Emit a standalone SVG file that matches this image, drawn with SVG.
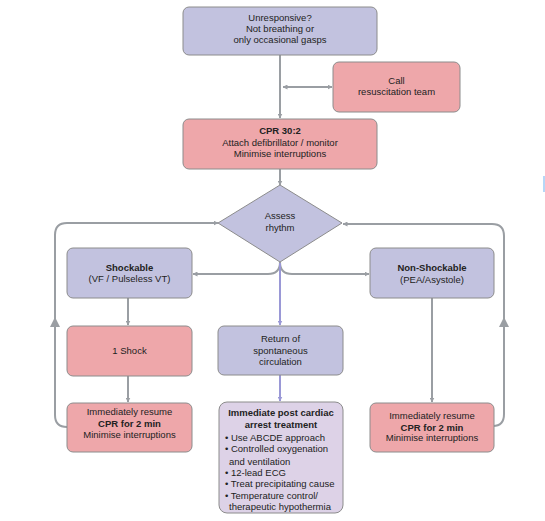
<svg xmlns="http://www.w3.org/2000/svg" width="545" height="521" viewBox="0 0 545 521">
<defs>
<style>
.lav{fill:#c2c2df;stroke:#8c8c8c;stroke-width:1}
.pink{fill:#eea7aa;stroke:#8c8c8c;stroke-width:1}
.post{fill:#ddd2e7;stroke:#8c8c8c;stroke-width:1}
text{font-family:"Liberation Sans",Arial,sans-serif;font-size:9.5px;fill:#222}
.c{text-anchor:middle}
.b{font-weight:bold}
.g{fill:none;stroke:#9a9ea3;stroke-width:2}
.p{fill:none;stroke:#9a98d6;stroke-width:2}
</style>
<marker id="ag" viewBox="0 0 10 10" refX="9" refY="5" markerWidth="5" markerHeight="5" orient="auto-start-reverse" markerUnits="userSpaceOnUse">
<path d="M0,0 L10,5 L0,10 z" fill="#9a9ea3"/>
</marker>
<marker id="ap" viewBox="0 0 10 10" refX="9" refY="5" markerWidth="5" markerHeight="5" orient="auto" markerUnits="userSpaceOnUse">
<path d="M0,0 L10,5 L0,10 z" fill="#9a98d6"/>
</marker>
<marker id="am" viewBox="0 0 10 10" refX="5" refY="5" markerWidth="10" markerHeight="10" orient="auto" markerUnits="userSpaceOnUse">
<path d="M0,0 L10,5 L0,10 z" fill="#9a9ea3"/>
</marker>
</defs>
<rect width="545" height="521" fill="#fff"/>
<g id="connectors">
<path class="g" d="M280,55 V118" marker-end="url(#ag)"/>
<path class="g" d="M283,87 H332" marker-start="url(#ag)" marker-end="url(#ag)"/>
<path class="g" d="M280,169 V185" marker-end="url(#ag)"/>
<path class="g" d="M280,262 Q280,274 268,274 H193" marker-end="url(#ag)"/>
<path class="g" d="M280,262 Q280,274 292,274 H369" marker-end="url(#ag)"/>
<path class="p" d="M280,263 V325" marker-end="url(#ap)"/>
<path class="p" d="M280,375 V401" marker-end="url(#ap)"/>
<path class="g" d="M128,298 V325" marker-end="url(#ag)"/>
<path class="g" d="M128,376 V402" marker-end="url(#ag)"/>
<path class="g" d="M432,298 V402" marker-end="url(#ag)"/>
<path class="g" d="M67,427 Q55,427 55,415 V235 Q55,223 67,223 H218" marker-end="url(#ag)"/>
<path class="g" d="M55,323 V322" marker-end="url(#am)"/>
<path class="g" d="M493,426 Q504,426 504,414 V236 Q504,224 492,224 H343" marker-end="url(#ag)"/>
<path class="g" d="M504,323 V322" marker-end="url(#am)"/>
</g>
<g id="unresponsive">
<rect class="lav" x="183" y="7" width="194" height="48" rx="6"/>
<text class="c" x="280" y="21">Unresponsive?</text>
<text class="c" x="280" y="32">Not breathing or</text>
<text class="c" x="280" y="43">only occasional gasps</text>
</g>
<g id="call">
<rect class="pink" x="333" y="62" width="127" height="50" rx="6"/>
<text class="c" x="396.5" y="84">Call</text>
<text class="c" x="396.5" y="95">resuscitation team</text>
</g>
<g id="cpr">
<rect class="pink" x="183" y="119" width="194" height="50" rx="6"/>
<text class="c b" x="280" y="134">CPR 30:2</text>
<text class="c" x="280" y="146">Attach defibrillator / monitor</text>
<text class="c" x="280" y="157">Minimise interruptions</text>
</g>
<g id="assess">
<polygon class="lav" points="280,185 342,223 280,262 218,223"/>
<text class="c" x="280" y="219">Assess</text>
<text class="c" x="280" y="231">rhythm</text>
</g>
<g id="shockable">
<rect class="lav" x="67" y="248" width="125" height="50" rx="6"/>
<text class="c b" x="129.5" y="271">Shockable</text>
<text class="c" x="129.5" y="282">(VF / Pulseless VT)</text>
</g>
<g id="nonshockable">
<rect class="lav" x="370" y="248" width="124" height="50" rx="6"/>
<text class="c b" x="432" y="271">Non-Shockable</text>
<text class="c" x="432" y="283">(PEA/Asystole)</text>
</g>
<g id="shock">
<rect class="pink" x="67" y="326" width="125" height="50" rx="6"/>
<text class="c" x="129.5" y="354">1 Shock</text>
</g>
<g id="rosc">
<rect class="lav" x="218" y="326" width="125" height="49" rx="6"/>
<text class="c" x="280.5" y="342">Return of</text>
<text class="c" x="280.5" y="354">spontaneous</text>
<text class="c" x="280.5" y="365">circulation</text>
</g>
<g id="resume-left">
<rect class="pink" x="67" y="403" width="125" height="49" rx="6"/>
<text class="c" x="129.5" y="415">Immediately resume</text>
<text class="c b" x="129.5" y="427">CPR for 2 min</text>
<text class="c" x="129.5" y="438">Minimise interruptions</text>
</g>
<g id="resume-right">
<rect class="pink" x="370" y="403" width="124" height="49" rx="6"/>
<text class="c" x="432" y="419">Immediately resume</text>
<text class="c b" x="432" y="431">CPR for 2 min</text>
<text class="c" x="432" y="441">Minimise interruptions</text>
</g>
<g id="post">
<rect class="post" x="219" y="402" width="124" height="111" rx="8"/>
<text class="c b" x="281" y="416">Immediate post cardiac</text>
<text class="c b" x="281" y="428">arrest treatment</text>
<text x="225" y="441">• Use ABCDE approach</text>
<text x="225" y="452">• Controlled oxygenation</text>
<text x="229" y="465">and ventilation</text>
<text x="225" y="476">• 12-lead ECG</text>
<text x="225" y="487">• Treat precipitating cause</text>
<text x="225" y="499">• Temperature control/</text>
<text x="229" y="510">therapeutic hypothermia</text>
</g>
<rect x="543.5" y="176" width="1" height="16" fill="#6fb0f0"/>
</svg>
